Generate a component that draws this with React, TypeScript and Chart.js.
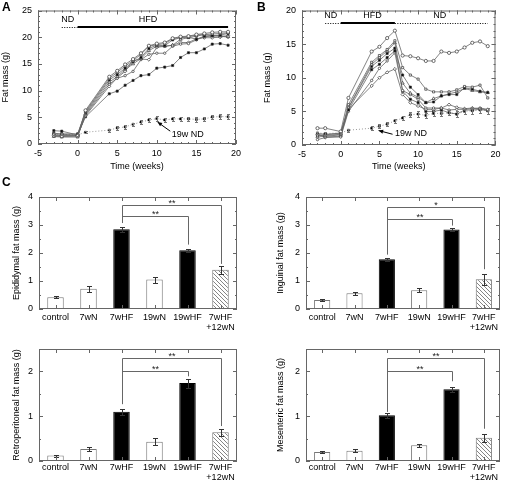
import React, { useEffect, useRef } from 'react';
import { Chart, registerables } from 'chart.js';
Chart.register(...registerables);

const FONT = "'Liberation Sans', Arial, Helvetica, sans-serif";

// ---------------- Panels A and B: fat mass time course ----------------
const weeks = [-3, -2, 0, 1, 4, 5, 6, 7, 8, 9, 10, 11, 12, 13, 14, 15, 16, 17, 18, 19];

// A: 19 weeks of HFD (individual mice)
const hfdA1 = [1.6, 1.5, 1.5, 6.3, 12.6, 13.7, 14.9, 15.9, 17.0, 18.4, 18.8, 19.0, 19.8, 20.1, 20.2, 20.5, 20.7, 20.9, 21.0, 21.0];
const hfdA2 = [1.9, 1.8, 1.7, 6.1, 12.3, 13.4, 14.6, 15.6, 16.8, 18.3, 18.6, 18.8, 19.7, 20.0, 20.1, 20.4, 20.5, 20.6, 20.7, 20.8];
const hfdA3 = [2.0, 1.9, 1.9, 5.9, 12.0, 13.0, 14.2, 15.4, 16.2, 17.9, 18.5, 18.4, 19.5, 19.9, 20.0, 19.6, 20.2, 20.3, 20.4, 20.7];
const hfdA4 = [1.4, 1.3, 1.3, 5.7, 11.6, 12.6, 13.9, 15.0, 16.0, 17.5, 18.3, 18.3, 18.5, 19.6, 19.9, 20.2, 20.5, 20.3, 20.3, 20.1];
const hfdA5 = [1.5, 1.4, 1.5, 5.5, 11.2, 12.3, 12.8, 13.6, 15.8, 16.8, 17.0, 17.0, 18.3, 18.7, 18.8, 19.5, 20.1, 20.2, 20.2, 20.0];
const hfdA6 = [1.7, 1.6, 1.6, 5.3, 10.8, 12.4, 13.6, 15.6, 15.9, 15.8, 18.1, 18.3, 18.5, 19.0, 19.0, 19.7, 19.9, 19.9, 20.0, 20.3];
const hfdA7 = [2.5, 2.4, 1.7, 5.1, 9.4, 9.9, 11.0, 11.9, 12.8, 13.0, 14.2, 14.4, 14.7, 16.2, 17.1, 17.1, 17.8, 18.7, 18.8, 18.5];
const ndA = [1.9, 1.8, 1.7, 2.2, 2.6, 3.0, 3.2, 3.7, 4.1, 4.5, 4.75, 4.5, 4.7, 4.7, 4.7, 4.6, 4.7, 5.05, 5.15, 5.1];
const ndAErr = [0.2, 0.2, 0.2, 0.2, 0.3, 0.3, 0.3, 0.3, 0.35, 0.4, 0.4, 0.4, 0.4, 0.4, 0.4, 0.4, 0.4, 0.45, 0.45, 0.45];

// B: 7 weeks HFD then back to ND (individual mice)
const hfdB1 = [2.5, 2.5, 2.0, 7.0, 13.9, 14.6, 15.9, 17.0, 13.3, 13.2, 12.9, 12.5, 12.5, 13.9, 13.7, 13.9, 14.5, 15.2, 15.4, 14.7];
const hfdB2 = [1.5, 1.4, 1.6, 6.0, 12.3, 13.3, 14.2, 15.5, 11.5, 10.4, 9.8, 8.3, 7.9, 7.9, 7.9, 8.2, 8.7, 8.6, 8.9, 7.0];
const hfdB3 = [1.7, 1.6, 1.7, 5.2, 11.2, 12.0, 13.0, 14.0, 10.4, 8.6, 7.5, 6.3, 6.4, 7.3, 7.5, 7.5, 8.5, 8.3, 8.0, 7.8];
const hfdB4 = [1.2, 1.3, 1.5, 5.6, 12.0, 13.0, 14.0, 15.2, 9.2, 7.7, 7.1, 6.3, 6.9, 7.3, 7.6, 7.9, 8.4, 8.1, 7.9, 7.8];
const hfdB5 = [0.8, 1.1, 1.2, 5.0, 9.6, 11.4, 12.5, 13.7, 8.1, 7.5, 6.8, 5.5, 5.5, 5.5, 5.2, 5.3, 5.3, 5.4, 5.5, 5.3];
const hfdB6 = [1.6, 1.2, 1.3, 5.3, 8.8, 10.0, 10.8, 11.3, 7.5, 6.3, 5.8, 5.3, 5.3, 5.5, 6.0, 5.6, 5.4, 5.5, 5.4, 5.2];
const hfdB7 = [1.4, 1.5, 1.8, 5.5, 11.7, 12.6, 13.6, 14.4, 8.0, 6.8, 6.3, 5.0, 5.0, 5.2, 4.8, 4.6, 5.2, 5.2, 5.3, 5.1];
const ndB = [1.8, 1.7, 1.8, 2.2, 2.5, 2.8, 3.1, 3.6, 4.0, 4.5, 4.6, 4.4, 4.7, 4.7, 4.8, 4.6, 5.0, 5.1, 5.2, 5.1];
const ndBErr = [0.2, 0.2, 0.2, 0.2, 0.3, 0.3, 0.3, 0.3, 0.35, 0.4, 0.4, 0.4, 0.4, 0.4, 0.4, 0.4, 0.4, 0.45, 0.45, 0.45];

// ---------------- Panel C: fat depots ----------------
const groups: (string | string[])[] = ['control', '7wN', '7wHF', '19wN', '19wHF', ['7wHF', '+12wN']];
const groupFill = ['white', 'white', 'black', 'white', 'black', 'hatch'];

const epididymal = [0.42, 0.72, 2.85, 1.05, 2.1, 1.4];
const epididymalErr = [0.03, 0.1, 0.09, 0.11, 0.05, 0.14];
const inguinal = [0.32, 0.56, 1.78, 0.67, 2.84, 1.06];
const inguinalErr = [0.03, 0.06, 0.05, 0.07, 0.06, 0.2];
const retroperitoneal = [0.12, 0.27, 1.1, 0.43, 1.74, 0.64];
const retroperitonealErr = [0.02, 0.05, 0.07, 0.08, 0.1, 0.08];
const mesenteric = [0.2, 0.23, 1.02, 0.35, 1.6, 0.52];
const mesentericErr = [0.02, 0.03, 0.05, 0.04, 0.05, 0.09];

type Box = { x: number; y: number; w: number; h: number; L: number; T: number; R: number; B: number };

const range = (a: number, b: number, s: number) => {
  const out: number[] = [];
  for (let v = a; v <= b + 1e-9; v += s) out.push(Math.round(v * 100) / 100);
  return out;
};

function makeExtras(cfg: any) {
  return {
    id: 'extras',
    afterDatasetsDraw(chart: any) {
      const ctx = chart.ctx;
      const xs = chart.scales.x;
      const ys = chart.scales.y;
      ctx.save();
      // error bars
      (cfg.errors || []).forEach((e: any) => {
        const ds = chart.data.datasets[e.ds];
        const meta = chart.getDatasetMeta(e.ds);
        ctx.strokeStyle = e.color;
        ctx.lineWidth = 1;
        ctx.setLineDash([]);
        meta.data.forEach((el: any, i: number) => {
          const raw = ds.data[i];
          const v = typeof raw === 'number' ? raw : raw.y;
          const err = e.err[i];
          if (!err) return;
          const x = Math.round(el.x) + 0.5;
          const y1 = Math.round(ys.getPixelForValue(v + err)) + 0.5;
          const y2 = Math.round(ys.getPixelForValue(v - err)) + 0.5;
          ctx.beginPath();
          ctx.moveTo(x, y1); ctx.lineTo(x, y2);
          ctx.moveTo(x - e.cap, y1); ctx.lineTo(x + e.cap, y1);
          ctx.moveTo(x - e.cap, y2); ctx.lineTo(x + e.cap, y2);
          ctx.stroke();
        });
      });
      // significance brackets
      (cfg.brackets || []).forEach((b: any) => {
        const xa = Math.round(xs.getPixelForValue(b.from)) + 0.5;
        const xb = Math.round(xs.getPixelForValue(b.to)) + 0.5;
        const yt = Math.round(ys.getPixelForValue(b.top)) + 0.5;
        ctx.strokeStyle = '#666';
        ctx.lineWidth = 1;
        ctx.setLineDash([]);
        ctx.beginPath();
        ctx.moveTo(xa, ys.getPixelForValue(b.y1));
        ctx.lineTo(xa, yt);
        ctx.lineTo(xb, yt);
        ctx.lineTo(xb, ys.getPixelForValue(b.y2));
        ctx.stroke();
        ctx.fillStyle = '#222';
        ctx.font = `9px ${FONT}`;
        ctx.textAlign = 'center';
        ctx.textBaseline = 'alphabetic';
        ctx.fillText(b.text, (xa + xb) / 2, yt);
      });
      // diet segments
      (cfg.segs || []).forEach((s: any) => {
        const y = Math.round(ys.getPixelForValue(s.y)) + (s.dash ? 0.5 : 0);
        ctx.strokeStyle = '#000';
        ctx.lineWidth = s.dash ? 1 : 2;
        ctx.setLineDash(s.dash ? [1, 1.5] : []);
        ctx.beginPath();
        ctx.moveTo(xs.getPixelForValue(s.x1), y);
        ctx.lineTo(xs.getPixelForValue(s.x2), y);
        ctx.stroke();
      });
      ctx.setLineDash([]);
      // texts
      (cfg.texts || []).forEach((t: any) => {
        ctx.fillStyle = '#000';
        ctx.font = `9px ${FONT}`;
        ctx.textAlign = t.align || 'center';
        ctx.textBaseline = 'middle';
        ctx.fillText(t.text, xs.getPixelForValue(t.x), ys.getPixelForValue(t.y));
      });
      // arrow
      if (cfg.arrow) {
        const a = cfg.arrow;
        const x1 = xs.getPixelForValue(a.x1), y1 = ys.getPixelForValue(a.y1);
        const x2 = xs.getPixelForValue(a.x2), y2 = ys.getPixelForValue(a.y2);
        const ang = Math.atan2(y2 - y1, x2 - x1);
        ctx.strokeStyle = '#000';
        ctx.fillStyle = '#000';
        ctx.lineWidth = 1;
        ctx.beginPath();
        ctx.moveTo(x1, y1);
        ctx.lineTo(x2, y2);
        ctx.stroke();
        const hl = 4.5, hw = 2;
        ctx.beginPath();
        ctx.moveTo(x2, y2);
        ctx.lineTo(x2 - hl * Math.cos(ang) + hw * Math.sin(ang), y2 - hl * Math.sin(ang) - hw * Math.cos(ang));
        ctx.lineTo(x2 - hl * Math.cos(ang) - hw * Math.sin(ang), y2 - hl * Math.sin(ang) + hw * Math.cos(ang));
        ctx.closePath();
        ctx.fill();
      }
      ctx.restore();
    },
    afterDraw(chart: any) {
      const ctx = chart.ctx;
      const xs = chart.scales.x;
      const ys = chart.scales.y;
      const { left, right, top, bottom } = chart.chartArea;
      ctx.save();
      ctx.strokeStyle = '#666';
      ctx.lineWidth = 1;
      ctx.setLineDash([]);
      ctx.strokeRect(left + 0.5, top + 0.5, right - left - 1, bottom - top - 1);
      const tick = (vals: number[], len: number, horiz: boolean) => {
        vals.forEach((v) => {
          ctx.beginPath();
          if (horiz) {
            const p = Math.round(xs.getPixelForValue(v)) + 0.5;
            ctx.moveTo(p, bottom); ctx.lineTo(p, bottom - len);
            ctx.moveTo(p, top); ctx.lineTo(p, top + len);
          } else {
            const p = Math.round(ys.getPixelForValue(v)) + 0.5;
            ctx.moveTo(left, p); ctx.lineTo(left + len, p);
            ctx.moveTo(right, p); ctx.lineTo(right - len, p);
          }
          ctx.stroke();
        });
      };
      tick(cfg.xMajor || [], 4, true);
      tick(cfg.xMinor || [], 2, true);
      tick(cfg.yMajor || [], 4, false);
      tick(cfg.yMinor || [], 2, false);
      if (cfg.panel) {
        ctx.fillStyle = '#000';
        ctx.font = `bold 12px ${FONT}`;
        ctx.textAlign = 'left';
        ctx.textBaseline = 'alphabetic';
        ctx.fillText(cfg.panel.text, cfg.panel.x, cfg.panel.y);
      }
      ctx.restore();
    },
  };
}

function baseOptions(box: Box, xScale: any, yScale: any) {
  return {
    responsive: false,
    animation: false,
    events: [],
    layout: { padding: { top: box.T - box.y, right: box.x + box.w - box.R, left: 0, bottom: 0 } },
    plugins: { legend: { display: false }, tooltip: { enabled: false } },
    scales: {
      x: {
        ...xScale,
        grid: { display: false, drawTicks: false },
        border: { display: false },
        afterFit: (s: any) => { s.height = box.y + box.h - box.B; },
      },
      y: {
        ...yScale,
        grid: { display: false, drawTicks: false },
        border: { display: false },
        afterFit: (s: any) => { s.width = box.L - box.x; },
      },
    },
  };
}

function lineDs(vals: number[], style: string, filled: boolean, radius: number) {
  return {
    data: weeks.map((w, i) => ({ x: w, y: vals[i] })),
    borderColor: '#666',
    borderWidth: 0.8,
    pointStyle: style,
    pointRadius: radius,
    pointBackgroundColor: filled ? '#000' : '#fff',
    pointBorderColor: '#333',
    pointBorderWidth: 0.7,
    tension: 0,
  };
}

function ndDs(vals: number[]) {
  return {
    data: weeks.map((w, i) => ({ x: w, y: vals[i] })),
    borderColor: '#999',
    borderWidth: 1,
    borderDash: [1, 2],
    pointStyle: 'rect',
    pointRadius: 1.4,
    pointBackgroundColor: '#000',
    pointBorderColor: '#000',
    pointBorderWidth: 0.5,
    tension: 0,
  };
}

function timeConfig(box: Box, hfd: number[][], nd: number[], ndErr: number[], yMax: number, yTitlePad: number, extra: any) {
  const styles = ['circle', 'rect', 'rect', 'triangle', 'circle', 'rectRot', 'rect'];
  const filled = [false, false, true, false, false, false, true];
  const radii = [1.6, 1.5, 1.5, 1.8, 1.2, 1.6, 1.5];
  const datasets: any[] = hfd.map((v, i) => lineDs(v, styles[i], filled[i], radii[i]));
  datasets.push(ndDs(nd));
  const cfg = {
    xMajor: range(-5, 20, 5),
    xMinor: range(-5, 20, 1),
    yMajor: range(0, yMax, 5),
    yMinor: range(0, yMax, 1),
    errors: [{ ds: datasets.length - 1, err: ndErr, cap: 1.5, color: '#777' }],
    ...extra,
  };
  return {
    type: 'line',
    data: { datasets },
    options: baseOptions(
      box,
      {
        type: 'linear', min: -5, max: 20,
        ticks: { stepSize: 5, font: { family: FONT, size: 9, lineHeight: 1 }, color: '#000', padding: 5.5, maxRotation: 0 },
        title: { display: true, text: 'Time (weeks)', font: { family: FONT, size: 9 }, color: '#000', padding: 0 },
      },
      {
        type: 'linear', min: 0, max: yMax,
        ticks: { stepSize: 5, font: { family: FONT, size: 9, lineHeight: 1 }, color: '#000', padding: 6 },
        title: { display: true, text: 'Fat mass (g)', font: { family: FONT, size: 9 }, color: '#000', padding: { top: yTitlePad, bottom: 0 } },
      }
    ),
    plugins: [makeExtras(cfg)],
  };
}

function hatchPattern(ctx: CanvasRenderingContext2D) {
  const c = document.createElement('canvas');
  c.width = 4; c.height = 4;
  const g = c.getContext('2d')!;
  g.fillStyle = '#fff';
  g.fillRect(0, 0, 4, 4);
  g.strokeStyle = '#777';
  g.lineWidth = 0.9;
  g.beginPath();
  g.moveTo(-1, -1); g.lineTo(5, 5);
  g.moveTo(3, -1); g.lineTo(5, 1);
  g.moveTo(-1, 3); g.lineTo(1, 5);
  g.stroke();
  return ctx.createPattern(c, 'repeat');
}

function barConfig(box: Box, canvas: HTMLCanvasElement, vals: number[], errs: number[], title: string, yMax: number, yTitlePad: number, labelPad: number, brackets: any[], panel?: any) {
  const pat = hatchPattern(canvas.getContext('2d')!);
  const bg = groupFill.map((f) => (f === 'black' ? '#000' : f === 'hatch' ? pat : '#fff'));
  const bc = groupFill.map((f) => (f === 'black' ? '#000' : '#777'));
  const cfg = {
    xMajor: groups.map((_, i) => i),
    yMajor: range(0, Math.floor(yMax), 1),
    yMinor: range(0, yMax, 0.5),
    errors: [{ ds: 0, err: errs, cap: 2.5, color: '#333' }],
    brackets,
    panel,
  };
  return {
    type: 'bar',
    data: {
      labels: groups,
      datasets: [{
        data: vals,
        backgroundColor: bg,
        borderColor: bc,
        borderWidth: 1,
        barPercentage: 0.5,
        categoryPercentage: 1,
      }],
    },
    options: baseOptions(
      box,
      {
        type: 'category',
        ticks: { font: { family: FONT, size: 9, lineHeight: 1.1 }, color: '#000', padding: labelPad, maxRotation: 0, autoSkip: false },
      },
      {
        type: 'linear', min: 0, max: yMax,
        ticks: { stepSize: 1, includeBounds: false, font: { family: FONT, size: 9, lineHeight: 1 }, color: '#000', padding: 6 },
        title: { display: true, text: title, font: { family: FONT, size: 9 }, color: '#000', padding: { top: yTitlePad, bottom: 0 } },
      }
    ),
    plugins: [makeExtras(cfg)],
  };
}

function Panel({ box, build }: { box: Box; build: (canvas: HTMLCanvasElement) => any }) {
  const ref = useRef<HTMLCanvasElement | null>(null);
  useEffect(() => {
    const canvas = ref.current!;
    const chart = new Chart(canvas, build(canvas));
    return () => chart.destroy();
  }, []);
  return (
    <canvas
      ref={ref}
      width={box.w}
      height={box.h}
      style={{ position: 'absolute', left: box.x, top: box.y, width: box.w, height: box.h }}
    />
  );
}

const boxA: Box = { x: 0, y: 0, w: 250, h: 172, L: 38, T: 4, R: 236, B: 144 };
const boxB: Box = { x: 250, y: 0, w: 256, h: 172, L: 302, T: 5, R: 500, B: 145 };
const boxC1: Box = { x: 0, y: 172, w: 250, h: 160, L: 39, T: 197, R: 237, B: 309 };
const boxC2: Box = { x: 250, y: 172, w: 256, h: 160, L: 306, T: 197, R: 500, B: 309 };
const boxC3: Box = { x: 0, y: 332, w: 250, h: 153, L: 39, T: 349, R: 237, B: 461 };
const boxC4: Box = { x: 250, y: 332, w: 256, h: 153, L: 306, T: 349, R: 500, B: 461 };

export default function App() {
  return (
    <div style={{ position: 'absolute', left: 0, top: 0, width: 506, height: 485, background: '#fff', overflow: 'hidden' }}>
      <Panel
        box={boxA}
        build={() =>
          timeConfig(boxA, [hfdA1, hfdA2, hfdA3, hfdA4, hfdA5, hfdA6, hfdA7], ndA, ndAErr, 25, 0, {
            panel: { text: 'A', x: 2, y: 11 },
            segs: [
              { x1: -2, x2: 0, y: 22, dash: true },
              { x1: 0, x2: 19, y: 22, dash: false },
            ],
            texts: [
              { x: -1.25, y: 23.4, text: 'ND' },
              { x: 8.9, y: 23.4, text: 'HFD' },
              { x: 11.9, y: 1.8, text: '19w ND', align: 'left' },
            ],
            arrow: { x1: 11.7, y1: 2.4, x2: 10.1, y2: 4.1 },
          })
        }
      />
      <Panel
        box={boxB}
        build={() =>
          timeConfig(boxB, [hfdB1, hfdB2, hfdB3, hfdB4, hfdB5, hfdB6, hfdB7], ndB, ndBErr, 20, 12.6, {
            panel: { text: 'B', x: 7, y: 11 },
            segs: [
              { x1: -2, x2: 0, y: 18.2, dash: true },
              { x1: 0, x2: 7, y: 18.2, dash: false },
              { x1: 7, x2: 19, y: 18.2, dash: true },
            ],
            texts: [
              { x: -1.3, y: 19.3, text: 'ND' },
              { x: 4.1, y: 19.3, text: 'HFD' },
              { x: 12.8, y: 19.3, text: 'ND' },
              { x: 7.0, y: 1.65, text: '19w ND', align: 'left' },
            ],
            arrow: { x1: 6.7, y1: 1.6, x2: 4.9, y2: 2.15 },
          })
        }
      />
      <Panel
        box={boxC1}
        build={(c) =>
          barConfig(boxC1, c, epididymal, epididymalErr, 'Epididymal fat mass (g)', 4, 11, 4, [
            { from: 2, to: 4, y1: 3.07, y2: 2.3, top: 3.31, text: '**' },
            { from: 2, to: 5, y1: 3.07, y2: 1.61, top: 3.7, text: '**' },
          ], { text: 'C', x: 2, y: 14 })
        }
      />
      <Panel
        box={boxC2}
        build={(c) =>
          barConfig(boxC2, c, inguinal, inguinalErr, 'Inguinal fat mass (g)', 4, 25.6, 4, [
            { from: 2, to: 4, y1: 1.95, y2: 2.98, top: 3.2, text: '**' },
            { from: 2, to: 5, y1: 1.95, y2: 1.42, top: 3.63, text: '*' },
          ])
        }
      />
      <Panel
        box={boxC3}
        build={(c) =>
          barConfig(boxC3, c, retroperitoneal, retroperitonealErr, 'Retroperitoneal fat mass (g)', 2.5, 11, 2, [
            { from: 2, to: 4, y1: 1.27, y2: 1.89, top: 2.0, text: '**' },
            { from: 2, to: 5, y1: 1.27, y2: 0.78, top: 2.31, text: '**' },
          ])
        }
      />
      <Panel
        box={boxC4}
        build={(c) =>
          barConfig(boxC4, c, mesenteric, mesentericErr, 'Mesenteric fat mass (g)', 2.5, 25.6, 2, [
            { from: 2, to: 4, y1: 1.1, y2: 1.78, top: 2.0, text: '**' },
            { from: 2, to: 5, y1: 1.1, y2: 0.72, top: 2.31, text: '**' },
          ])
        }
      />
    </div>
  );
}
